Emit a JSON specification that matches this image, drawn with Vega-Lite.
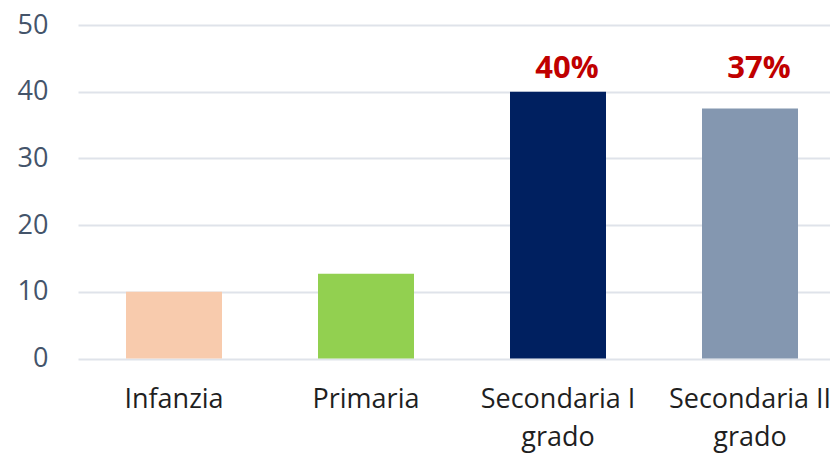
{
  "$schema": "https://vega.github.io/schema/vega-lite/v6.json",
  "width": 752,
  "height": 333.5,
  "autosize": {"type": "none"},
  "padding": {"left": 78, "top": 25, "right": 0, "bottom": 95.5},
  "background": "white",
  "config": {"view": {"stroke": null}, "font": "Open Sans"},
  "data": {"values": [
    {"categoria": "Infanzia", "valore": 10.0, "etichetta": ""},
    {"categoria": "Primaria", "valore": 12.7, "etichetta": ""},
    {"categoria": "Secondaria I grado", "valore": 40.0, "etichetta": "40%"},
    {"categoria": "Secondaria II grado", "valore": 37.5, "etichetta": "37%"}
  ]},
  "encoding": {
    "x": {
      "field": "categoria", "type": "nominal", "sort": null,
      "scale": {"range": [0, 768], "paddingInner": 0.5, "paddingOuter": 0.25},
      "axis": {
        "title": null, "domain": false, "ticks": false, "labelAngle": 0,
        "labelFont": "Open Sans", "labelFontSize": 27, "labelColor": "#1f1f1f",
        "labelPadding": 28, "labelLineHeight": 38, "labelLimit": 400,
        "labelExpr": "indexof(datum.value, ' grado') > 0 ? [slice(datum.value, 0, indexof(datum.value, ' grado')), 'grado'] : datum.value"
      }
    }
  },
  "layer": [
    {
      "mark": {"type": "bar"},
      "encoding": {
        "y": {
          "field": "valore", "type": "quantitative",
          "scale": {"domain": [0, 50], "nice": false},
          "axis": {
            "title": null, "domain": false, "ticks": false, "values": [0, 10, 20, 30, 40, 50],
            "labelFont": "Open Sans", "labelFontSize": 27, "labelColor": "#44546A",
            "labelPadding": 30, "gridColor": "#DFE3EA", "gridWidth": 2
          }
        },
        "color": {
          "field": "categoria", "type": "nominal", "legend": null,
          "scale": {
            "domain": ["Infanzia", "Primaria", "Secondaria I grado", "Secondaria II grado"],
            "range": ["#F8CBAD", "#92D050", "#002060", "#8497B0"]
          }
        }
      }
    },
    {
      "mark": {"type": "text", "font": "Open Sans", "fontSize": 31, "fontWeight": "bold", "color": "#C00000", "baseline": "alphabetic", "dx": 9},
      "encoding": {
        "y": {"datum": 42, "type": "quantitative"},
        "text": {"field": "etichetta"}
      }
    }
  ]
}
